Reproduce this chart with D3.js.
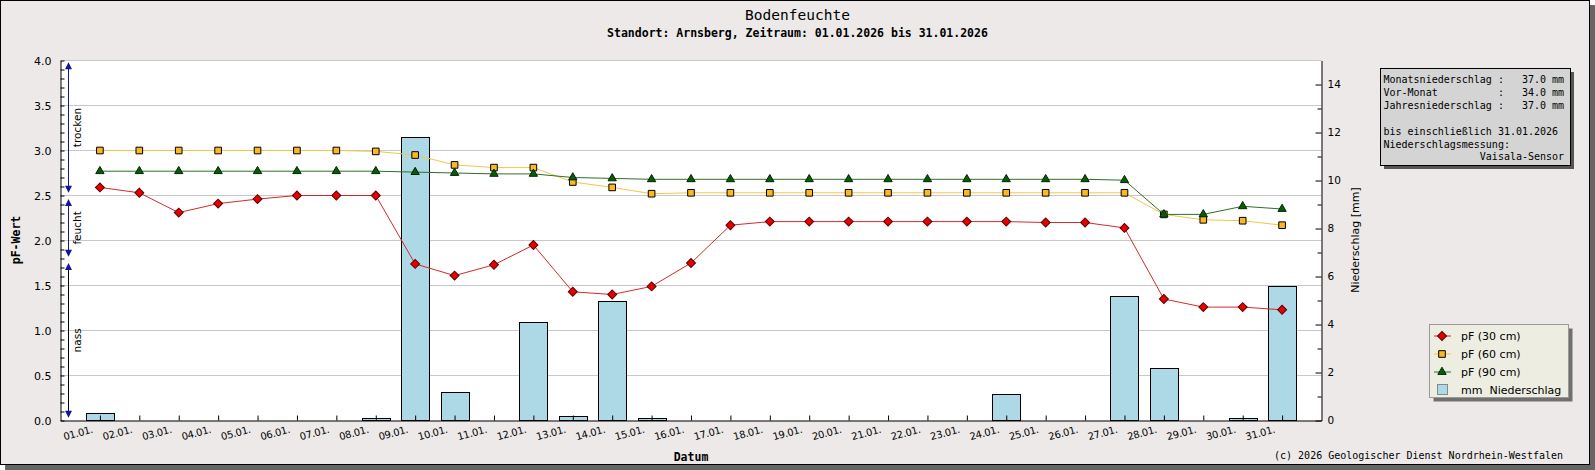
<!DOCTYPE html>
<html>
<head>
<meta charset="utf-8">
<script src="https://cdn.jsdelivr.net/npm/d3@7/dist/d3.min.js"></script>
<style>
  body { margin: 0; background: #fff; }
  svg text { font-family: "DejaVu Sans", sans-serif; fill: #000; white-space: pre; }
  .mono { font-family: "DejaVu Sans Mono", monospace; }
</style>
</head>
<body>
<script>
//------------ DATA ----------------------------------

const dates = ["01.01.", "02.01.", "03.01.", "04.01.", "05.01.", "06.01.", "07.01.", "08.01.",
               "09.01.", "10.01.", "11.01.", "12.01.", "13.01.", "14.01.", "15.01.", "16.01.",
               "17.01.", "18.01.", "19.01.", "20.01.", "21.01.", "22.01.", "23.01.", "24.01.",
               "25.01.", "26.01.", "27.01.", "28.01.", "29.01.", "30.01.", "31.01."];

// pF values
const pf30 = [2.59, 2.53, 2.31, 2.41, 2.46, 2.50, 2.50, 2.50, 1.74, 1.61, 1.73, 1.95, 1.43, 1.40, 1.49, 1.75,
              2.17, 2.21, 2.21, 2.21, 2.21, 2.21, 2.21, 2.21, 2.20, 2.20, 2.14, 1.35, 1.26, 1.26, 1.23];
const pf60 = [3.00, 3.00, 3.00, 3.00, 3.00, 3.00, 3.00, 2.99, 2.95, 2.84, 2.81, 2.81, 2.65, 2.59, 2.52, 2.53,
              2.53, 2.53, 2.53, 2.53, 2.53, 2.53, 2.53, 2.53, 2.53, 2.53, 2.53, 2.29, 2.23, 2.22, 2.17];
const pf90 = [2.77, 2.77, 2.77, 2.77, 2.77, 2.77, 2.77, 2.77, 2.76, 2.75, 2.74, 2.74, 2.70, 2.69, 2.68, 2.68,
              2.68, 2.68, 2.68, 2.68, 2.68, 2.68, 2.68, 2.68, 2.68, 2.68, 2.67, 2.29, 2.29, 2.38, 2.35];

// daily precipitation in mm
const rain = [0.3, 0, 0, 0, 0, 0, 0, 0.1, 11.8, 1.2, 0, 4.1, 0.2, 5.0, 0.1, 0,
              0, 0, 0, 0, 0, 0, 0, 1.1, 0, 0, 5.2, 2.2, 0, 0.1, 5.6];

const pfTicks = [0, 0.5, 1.0, 1.5, 2.0, 2.5, 3.0, 3.5, 4.0];
const rainTicks = [0, 2, 4, 6, 8, 10, 12, 14];

// soil moisture zones on the left (pF range of each arrow)
const zoneLabels = ["trocken", "feucht", "nass"];
const zoneFrom = [2.53, 1.82, 0.03];
const zoneTo = [3.98, 2.46, 1.75];

const legendLabels = ["pF (30 cm)", "pF (60 cm)", "pF (90 cm)", "mm  Niederschlag"];

const infoLines = ["Monatsniederschlag :   37.0 mm",
                   "Vor-Monat          :   34.0 mm",
                   "Jahresniederschlag :   37.0 mm",
                   "",
                   "bis einschließlich 31.01.2026",
                   "Niederschlagsmessung:",
                   "                Vaisala-Sensor"];

//----------------------------------------------------


//-----------SET UP SVG -------------------
const width = 1595,
    height = 470;

var svg = d3.select("body").append("svg")
    .attr("width", width)
    .attr("height", height);

// frame with shadow
svg.append("rect").attr("x", 5).attr("y", 5).attr("width", width - 5).attr("height", height - 5)
    .attr("fill", "#666");
svg.append("rect").attr("x", 0.5).attr("y", 0.5).attr("width", 1589).attr("height", 464)
    .attr("fill", "#ECE9E8").attr("stroke", "#000");
//-------------------------------------------------------


//------------SCALES ----------------------
var x = d3.scaleLinear().domain([0, 32]).range([60.5, 1321.5]);
var y = d3.scaleLinear().domain([0, 4]).range([420.5, 60.5]);
var y2 = d3.scaleLinear().domain([0, 15]).range([420.5, 60.5]);
var step = x(1) - x(0);

// plot area
svg.append("rect")
    .attr("x", x(0)).attr("y", y(4))
    .attr("width", x(32) - x(0)).attr("height", y(0) - y(4))
    .attr("fill", "#fff");

// grid lines
svg.append("g").selectAll("line")
    .data(pfTicks.filter(d => d > 0))
    .join("line")
    .attr("x1", x(0)).attr("x2", x(32))
    .attr("y1", d => y(d)).attr("y2", d => y(d))
    .attr("stroke", "#c8c8c8");


//------------BARS ----------------------
var barW = step * 0.71;
svg.append("g").selectAll("rect")
    .data(rain.map((v, i) => ({i: i + 1, v: v})).filter(d => d.v > 0))
    .join("rect")
    .attr("x", d => Math.round(x(d.i) - barW / 2) + 0.5)
    .attr("y", d => Math.round(y2(d.v)) + 0.5)
    .attr("width", Math.round(barW))
    .attr("height", d => y2(0) - Math.round(y2(d.v)) - 0.5)
    .attr("fill", "#ADD8E6")
    .attr("stroke", "#000");


//------------LINES + MARKERS ----------------------
var series = [
    {values: pf30, line: "#D42A2A", fill: "#E80000", stroke: "#5a0000", shape: "diamond"},
    {values: pf60, line: "#F2C64A", fill: "#FBB824", stroke: "#000", shape: "square"},
    {values: pf90, line: "#2E6E2E", fill: "#0A5A0A", stroke: "#002800", shape: "triangle"}
];

function marker(g, shape, fill, stroke) {
    if (shape === "diamond") {
        g.append("path").attr("d", d3.symbol(d3.symbolSquare, 40)())
            .attr("transform", "rotate(45)");
    } else if (shape === "square") {
        g.append("path").attr("d", d3.symbol(d3.symbolSquare, 44)());
    } else {
        g.append("path").attr("d", d3.symbol(d3.symbolTriangle, 30)());
    }
    g.select("path").attr("fill", fill).attr("stroke", stroke).attr("stroke-width", 1);
}

var line = d3.line().x((d, i) => x(i + 1)).y(d => y(d));

series.forEach(function(s) {
    svg.append("path")
        .datum(s.values)
        .attr("d", line)
        .attr("fill", "none")
        .attr("stroke", s.line)
        .attr("stroke-width", 1);

    svg.append("g").selectAll("g")
        .data(s.values)
        .join("g")
        .attr("transform", (d, i) => "translate(" + x(i + 1) + "," + y(d) + ")")
        .each(function() { marker(d3.select(this), s.shape, s.fill, s.stroke); });
});


//------------AXES ----------------------
// left: minor ticks inside, labels outside
svg.append("g")
    .attr("transform", "translate(" + x(0) + ",0)")
    .call(d3.axisRight(y).tickValues(d3.range(0, 4.01, 0.1)).tickSize(4).tickSizeOuter(0).tickFormat(""))
    .call(g => g.select(".domain").attr("stroke", "#000"));
svg.append("g")
    .attr("transform", "translate(" + x(0) + ",0)")
    .call(d3.axisLeft(y).tickValues(pfTicks).tickSize(0).tickPadding(9).tickFormat(d3.format(".1f")))
    .call(g => g.select(".domain").remove())
    .call(g => g.selectAll("text").attr("font-size", 11).attr("font-family", "DejaVu Sans"));

// right: precipitation
svg.append("g")
    .attr("transform", "translate(" + x(32) + ",0)")
    .call(d3.axisLeft(y2).tickValues(d3.range(1, 15, 2)).tickSize(4).tickSizeOuter(0).tickFormat(""))
    .call(g => g.select(".domain").attr("stroke", "#000"));
svg.append("g")
    .attr("transform", "translate(" + x(32) + ",0)")
    .call(d3.axisLeft(y2).tickValues(rainTicks).tickSize(6).tickSizeOuter(0).tickFormat(""))
    .call(g => g.select(".domain").remove());
svg.append("g")
    .attr("transform", "translate(" + x(32) + ",0)")
    .call(d3.axisRight(y2).tickValues(rainTicks).tickSize(0).tickPadding(6))
    .call(g => g.select(".domain").remove())
    .call(g => g.selectAll("text").attr("font-size", 10.5).attr("font-family", "DejaVu Sans"));

// bottom: ticks pointing up, rotated date labels
svg.append("g")
    .attr("transform", "translate(0," + y(0) + ")")
    .call(d3.axisTop(x).tickValues(d3.range(1, 32)).tickSize(5).tickSizeOuter(0).tickFormat(""))
    .call(g => g.select(".domain").attr("stroke", "#000"));

svg.append("g").selectAll("text")
    .data(dates)
    .join("text")
    .attr("transform", (d, i) => "translate(" + (x(i + 1) - 6.5) + ",432.5) rotate(-15)")
    .attr("text-anchor", "end")
    .attr("font-size", 10)
    .attr("letter-spacing", -0.3)
    .text(d => d);


//------------ZONE ARROWS (left) ----------------------
var zoneColor = ["#14149C", "#14149C", "#000"];
var ax = 68.5;
zoneLabels.forEach(function(label, k) {
    var top = y(zoneTo[k]), bot = y(zoneFrom[k]);
    svg.append("line")
        .attr("x1", ax).attr("x2", ax).attr("y1", top + 4).attr("y2", bot - 4)
        .attr("stroke", zoneColor[k]);
    svg.append("path")
        .attr("d", "M" + ax + "," + top + "L" + (ax - 3.5) + "," + (top + 7) + "L" + (ax + 3.5) + "," + (top + 7) + "Z")
        .attr("fill", "#14149C");
    svg.append("path")
        .attr("d", "M" + ax + "," + bot + "L" + (ax - 3.5) + "," + (bot - 7) + "L" + (ax + 3.5) + "," + (bot - 7) + "Z")
        .attr("fill", "#14149C");
    svg.append("text")
        .attr("transform", "translate(80.5," + (top + bot) / 2 + ") rotate(-90)")
        .attr("text-anchor", "middle")
        .attr("font-size", 10.5)
        .text(label);
});


//------------TITLES ----------------------
svg.append("text").attr("class", "mono")
    .attr("x", width / 2).attr("y", 20).attr("text-anchor", "middle")
    .attr("font-size", 14.5)
    .text("Bodenfeuchte");
svg.append("text").attr("class", "mono")
    .attr("x", width / 2).attr("y", 37).attr("text-anchor", "middle")
    .attr("font-size", 11.5).attr("font-weight", "bold")
    .text("Standort: Arnsberg, Zeitraum: 01.01.2026 bis 31.01.2026");

svg.append("text").attr("class", "mono")
    .attr("x", (x(0) + x(32)) / 2).attr("y", 461).attr("text-anchor", "middle")
    .attr("font-size", 11.5).attr("font-weight", "bold")
    .text("Datum");
svg.append("text").attr("class", "mono")
    .attr("transform", "translate(20,240) rotate(-90)").attr("text-anchor", "middle")
    .attr("font-size", 11.5).attr("font-weight", "bold")
    .text("pF-Wert");
svg.append("text")
    .attr("transform", "translate(1359,240) rotate(-90)").attr("text-anchor", "middle")
    .attr("font-size", 11)
    .text("Niederschlag [mm]");

svg.append("text").attr("class", "mono")
    .attr("x", 1563).attr("y", 458.5).attr("text-anchor", "end")
    .attr("font-size", 10)
    .text("(c) 2026 Geologischer Dienst Nordrhein-Westfalen");


//------------INFO BOX ----------------------
svg.append("rect").attr("x", 1384).attr("y", 72).attr("width", 190).attr("height", 97).attr("fill", "#555");
svg.append("rect").attr("x", 1380.5).attr("y", 68.5).attr("width", 190).attr("height", 97)
    .attr("fill", "#D4D4D4").attr("stroke", "#000");
svg.append("g").selectAll("text")
    .data(infoLines)
    .join("text")
    .attr("class", "mono")
    .attr("x", 1383.5)
    .attr("y", (d, i) => 83 + i * 12.9)
    .attr("font-size", 10)
    .text(d => d);


//------------LEGEND ----------------------
svg.append("rect").attr("x", 1433.5).attr("y", 328.5).attr("width", 139).attr("height", 73).attr("fill", "#707070");
svg.append("rect").attr("x", 1429.5).attr("y", 324.5).attr("width", 139).attr("height", 73)
    .attr("fill", "#EDEDE2").attr("stroke", "#999");

var leg = svg.append("g").selectAll("g")
    .data(legendLabels)
    .join("g")
    .attr("transform", (d, i) => "translate(1442," + (336 + i * 18) + ")");

leg.each(function(d, i) {
    var g = d3.select(this);
    if (i < 3) {
        var s = series[i];
        g.append("line").attr("x1", -8).attr("x2", 9).attr("stroke", s.line);
        var m = g.append("g");
        marker(m, s.shape, s.fill, s.stroke);
    } else {
        g.append("rect").attr("x", -4.5).attr("y", -5.5).attr("width", 10).attr("height", 10)
            .attr("fill", "#ADD8E6").attr("stroke", "#888");
    }
    g.append("text").attr("x", 19).attr("y", 4).attr("font-size", 11).text(d);
});
</script>
</body>
</html>
